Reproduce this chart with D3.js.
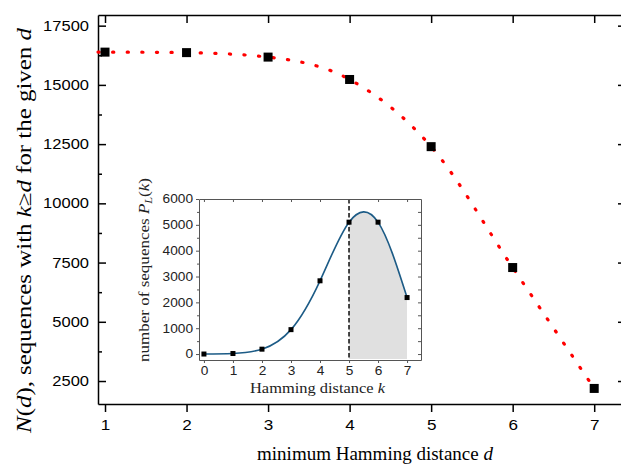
<!DOCTYPE html>
<html><head><meta charset="utf-8">
<script src="https://cdn.jsdelivr.net/npm/d3@7"></script>
<style>
html,body{margin:0;padding:0;background:#fff;}
svg{display:block;}
</style></head>
<body>
<svg id="c" width="621" height="468"></svg>
<script>
// ---- data ----
const dValues = [1, 2, 3, 4, 5, 6, 7];
const nValues = [16383, 16362, 16173, 15228, 12393, 7290, 2187];
const mainYTicks = [2500, 5000, 7500, 10000, 12500, 15000, 17500];
const mainYMinor = [3750, 6250, 8750, 11250, 13750, 16250];
const kValues = [0, 1, 2, 3, 4, 5, 6, 7];
const pValues = [1, 21, 189, 945, 2835, 5103, 5103, 2187];
const insetYTicks = [0, 1000, 2000, 3000, 4000, 5000, 6000];
const insetYMinor = [500, 1500, 2500, 3500, 4500, 5500];
const shadeFrom = 5;

const svg = d3.select("#c");
const sans = "'Liberation Sans', Arial, sans-serif";
const serif = "'Liberation Serif', 'Times New Roman', serif";

// ---- main plot ----
const M = {l: 98, r: 626, t: 15, b: 404};
const x = d3.scaleLinear().domain([0.914, 7.39]).range([M.l, M.r]);
const y = d3.scaleLinear().domain([1530, 17950]).range([M.b, M.t]);
const SX = 1.18;

function styleAxis(g, w) {
  g.selectAll("path.domain").attr("stroke", "#000").attr("stroke-width", w);
  g.selectAll(".tick line").attr("stroke", "#000").attr("stroke-width", w);
}

const gxb = svg.append("g").attr("transform", `translate(0,${M.b})`)
  .call(d3.axisBottom(x).tickValues(dValues).tickSizeInner(8).tickSizeOuter(0).tickPadding(8).tickFormat(d3.format("d")));
styleAxis(gxb, 1.5);
gxb.selectAll("text").attr("font-family", sans).attr("font-size", 14.5).attr("fill", "#000")
  .attr("transform", `scale(${SX},1)`);

const gxt = svg.append("g").attr("transform", `translate(0,${M.t})`)
  .call(d3.axisTop(x).tickValues(dValues).tickSizeInner(-8).tickSizeOuter(0).tickFormat(""));
styleAxis(gxt, 1.5);

const gyl = svg.append("g").attr("transform", `translate(${M.l},0)`)
  .call(d3.axisLeft(y).tickValues(mainYTicks).tickSizeInner(-8).tickSizeOuter(0).tickPadding(9).tickFormat(d3.format("d")));
styleAxis(gyl, 1.5);
gyl.selectAll("text").attr("font-family", sans).attr("font-size", 14).attr("fill", "#000")
  .attr("x", -9 / SX).attr("transform", `scale(${SX},1)`);
const gylm = svg.append("g").attr("transform", `translate(${M.l},0)`)
  .call(d3.axisLeft(y).tickValues(mainYMinor).tickSizeInner(-4).tickSizeOuter(0).tickFormat(""));
styleAxis(gylm, 1.5);
gylm.select("path.domain").remove();

const gyr = svg.append("g").attr("transform", `translate(${M.r},0)`)
  .call(d3.axisRight(y).tickValues(mainYTicks).tickSizeInner(-8).tickSizeOuter(0).tickFormat(""));
styleAxis(gyr, 1.5);

// red dotted curve
const mainPts = dValues.map((d, i) => ({d, v: nValues[i]}));
const lineMain = d3.line().x(p => x(p.d)).y(p => y(p.v)).curve(d3.curveMonotoneX);
svg.append("path")
  .datum([{d: x.domain()[0], v: nValues[0]}].concat(mainPts))
  .attr("d", lineMain).attr("fill", "none").attr("stroke", "#ff0000")
  .attr("stroke-width", 3.2).attr("stroke-linecap", "round").attr("stroke-dasharray", "1.2,13.4");

const sq = 9;
svg.append("g").selectAll("rect").data(mainPts).join("rect")
  .attr("x", p => x(p.d) - sq / 2).attr("y", p => y(p.v) - sq / 2)
  .attr("width", sq).attr("height", sq).attr("fill", "#000");

// titles
const xt = svg.append("text").attr("x", 375).attr("y", 460).attr("text-anchor", "middle")
  .attr("font-family", serif).attr("font-size", 19).attr("fill", "#000");
xt.append("tspan").text("minimum Hamming distance ");
xt.append("tspan").attr("font-style", "italic").text("d");

const yt = svg.append("text").attr("transform", "translate(31,230.5) rotate(-90)").attr("text-anchor", "middle")
  .attr("font-family", serif).attr("font-size", 20.5).attr("fill", "#000")
  .attr("textLength", 405).attr("lengthAdjust", "spacingAndGlyphs");
yt.append("tspan").attr("font-style", "italic").text("N");
yt.append("tspan").text("(");
yt.append("tspan").attr("font-style", "italic").text("d");
yt.append("tspan").text("), sequences with ");
yt.append("tspan").attr("font-style", "italic").text("k");
yt.append("tspan").text("≥");
yt.append("tspan").attr("font-style", "italic").text("d");
yt.append("tspan").text(" for the given ");
yt.append("tspan").attr("font-style", "italic").text("d");

// ---- inset ----
const I = {l: 199, r: 421, t: 199, b: 360};
const xi = d3.scaleLinear().domain([-0.17, 7.48]).range([I.l, I.r]);
const yi = d3.scaleLinear().domain([-230, 6000]).range([I.b, I.t]);
const SI = 1.14;
const ig = svg.append("g");
ig.append("rect").attr("x", I.l).attr("y", I.t).attr("width", I.r - I.l).attr("height", I.b - I.t).attr("fill", "#fff");

const insetPts = kValues.map((k, i) => ({k, v: pValues[i]}));
ig.append("clipPath").attr("id", "shade").append("rect")
  .attr("x", xi(shadeFrom)).attr("y", I.t).attr("width", xi(kValues[kValues.length - 1]) - xi(shadeFrom)).attr("height", I.b - I.t);
const areaI = d3.area().x(p => xi(p.k)).y0(I.b - 1).y1(p => yi(p.v)).curve(d3.curveNatural);
ig.append("path").datum(insetPts).attr("d", areaI).attr("fill", "#e0e0e0").attr("clip-path", "url(#shade)");

ig.append("line").attr("x1", xi(shadeFrom)).attr("x2", xi(shadeFrom)).attr("y1", I.t).attr("y2", I.b)
  .attr("stroke", "#333").attr("stroke-width", 1.8).attr("stroke-dasharray", "4.5,2.5");

const lineI = d3.line().x(p => xi(p.k)).y(p => yi(p.v)).curve(d3.curveNatural);
ig.append("path").datum(insetPts).attr("d", lineI).attr("fill", "none").attr("stroke", "#1c5b86").attr("stroke-width", 1.6);

ig.append("g").selectAll("rect").data(insetPts).join("rect")
  .attr("x", p => xi(p.k) - 2.5).attr("y", p => yi(p.v) - 2.5).attr("width", 5).attr("height", 5).attr("fill", "#000");

function styleInset(g) {
  g.selectAll("path.domain").attr("stroke", "#555").attr("stroke-width", 1);
  g.selectAll(".tick line").attr("stroke", "#555").attr("stroke-width", 1);
}
const ixb = ig.append("g").attr("transform", `translate(0,${I.b})`)
  .call(d3.axisBottom(xi).tickValues(kValues).tickSizeInner(3).tickSizeOuter(0).tickPadding(3).tickFormat(d3.format("d")));
styleInset(ixb);
ixb.selectAll("text").attr("font-family", sans).attr("font-size", 12).attr("fill", "#222").attr("transform", `scale(${SI},1)`);
const ixt = ig.append("g").attr("transform", `translate(0,${I.t})`)
  .call(d3.axisTop(xi).tickValues(kValues).tickSizeInner(-3).tickSizeOuter(0).tickFormat(""));
styleInset(ixt);
const iyl = ig.append("g").attr("transform", `translate(${I.l},0)`)
  .call(d3.axisLeft(yi).tickValues(insetYTicks).tickSizeInner(3).tickSizeOuter(0).tickPadding(3).tickFormat(d3.format("d")));
styleInset(iyl);
iyl.selectAll("text").attr("font-family", sans).attr("font-size", 12).attr("fill", "#222")
  .attr("x", -6 / SI).attr("transform", `scale(${SI},1)`);
const iylm = ig.append("g").attr("transform", `translate(${I.l},0)`)
  .call(d3.axisLeft(yi).tickValues(insetYMinor).tickSizeInner(2).tickSizeOuter(0).tickFormat(""));
styleInset(iylm); iylm.select("path.domain").remove();
const iyr = ig.append("g").attr("transform", `translate(${I.r},0)`)
  .call(d3.axisRight(yi).tickValues(insetYTicks.concat(insetYMinor)).tickSizeInner(-3).tickSizeOuter(0).tickFormat(""));
styleInset(iyr);

const ixtitle = ig.append("text").attr("x", 317.5).attr("y", 393).attr("text-anchor", "middle")
  .attr("font-family", serif).attr("font-size", 15).attr("fill", "#222")
  .attr("textLength", 135).attr("lengthAdjust", "spacingAndGlyphs");
ixtitle.append("tspan").text("Hamming distance ");
ixtitle.append("tspan").attr("font-style", "italic").text("k");

const iytitle = ig.append("text").attr("transform", "translate(149,270) rotate(-90)").attr("text-anchor", "middle")
  .attr("font-family", serif).attr("font-size", 14).attr("fill", "#222")
  .attr("textLength", 184).attr("lengthAdjust", "spacingAndGlyphs");
iytitle.append("tspan").text("number of sequences ");
iytitle.append("tspan").attr("font-style", "italic").text("P");
iytitle.append("tspan").attr("font-style", "italic").attr("font-size", 10).attr("dy", 3).text("L");
iytitle.append("tspan").attr("dy", -3).text("(");
iytitle.append("tspan").attr("font-style", "italic").text("k");
iytitle.append("tspan").text(")");
</script>
</body></html>
